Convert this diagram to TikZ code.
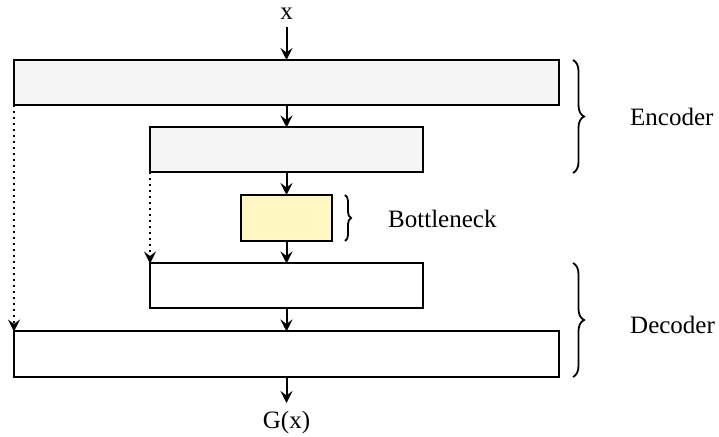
\documentclass[tikz,border=0pt]{standalone}
\usepackage{fontspec}
\setmainfont{Liberation Serif}
\usetikzlibrary{arrows.meta,decorations.pathreplacing}
\definecolor{encfill}{HTML}{F5F5F5}
\definecolor{bnfill}{HTML}{FFF6C2}
\begin{document}
\begin{tikzpicture}[x=1pt,y=1pt,
  every node/.style={font=\fontsize{25}{30}\selectfont},
  layer/.style={draw, line width=2pt, inner sep=0pt, outer sep=0pt, minimum height=45pt},
  wide/.style={layer, minimum width=545pt},
  narrow/.style={layer, minimum width=273pt},
  tip/.style={-{Stealth[length=12pt,width=12pt,inset=4.5pt]}},
  flow/.style={line width=2pt, tip},
  skip/.style={line width=2pt, dash pattern=on 2pt off 4pt, tip},
  grp/.style={line width=1.8pt, decorate}]
\useasboundingbox (0,0) rectangle (719,436);

% encoder, bottleneck and decoder layers
\node[wide, fill=encfill] (e1) at (286.5,353.5) {};
\node[narrow, fill=encfill] (e2) at (286.5,286) {};
\node[layer, fill=bnfill, minimum width=91pt, minimum height=46pt] (bn) at (286.5,218) {};
\node[narrow, fill=white] (d1) at (286.5,150) {};
\node[wide, fill=white] (d2) at (286.5,82) {};

% input and output
\node (x) at (286.5,422) {x};
\node (gx) at (286.5,14) {G(x)};
\coordinate (xin) at (286.5,409);
\coordinate (gout) at (286.5,33);

% main data flow
\draw[flow] (xin) -- (e1.north);
\draw[flow] (e1.south) -- (e2.north);
\draw[flow] (e2.south) -- (bn.north);
\draw[flow] (bn.south) -- (d1.north);
\draw[flow] (d1.south) -- (d2.north);
\draw[flow] (d2.south) -- (gout);

% skip connections
\draw[skip] (e1.south west) -- (d2.north west);
\draw[skip] (e2.south west) -- (d1.north west);

% group braces and labels
\coordinate (encT) at (573,376);
\coordinate (encB) at (573,263);
\coordinate (bnT) at (345,241);
\coordinate (bnB) at (345,195);
\coordinate (decT) at (573,173);
\coordinate (decB) at (573,59);
\draw[grp, decoration={brace, amplitude=11pt}] (encT) -- (encB);
\draw[grp, decoration={brace, amplitude=6pt}] (bnT) -- (bnB);
\draw[grp, decoration={brace, amplitude=11pt}] (decT) -- (decB);
\node[anchor=west, inner sep=0pt] (enc) at (630,319) {Encoder};
\node[anchor=west, inner sep=0pt] (bnl) at (388,217) {Bottleneck};
\node[anchor=west, inner sep=0pt] (dec) at (630,111) {Decoder};
\end{tikzpicture}
\end{document}
